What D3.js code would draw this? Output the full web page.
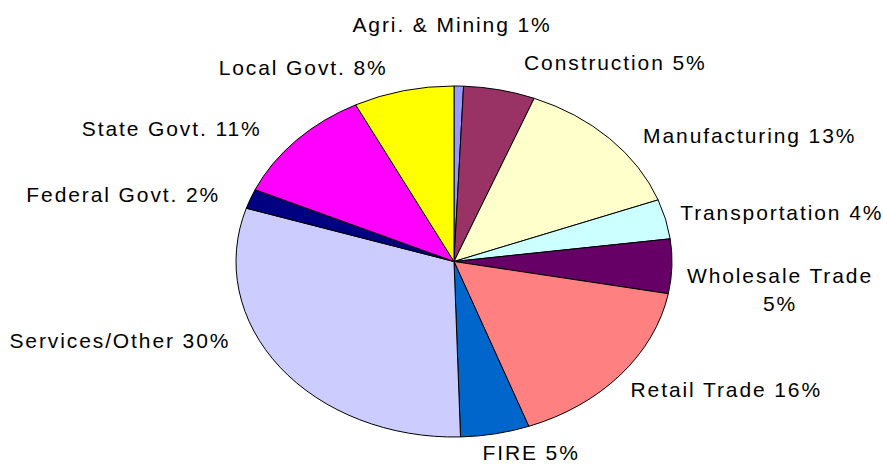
<!DOCTYPE html>
<html>
<head>
<meta charset="utf-8">
<script src="https://cdn.jsdelivr.net/npm/d3@7"></script>
<style>
  html, body { margin: 0; padding: 0; background: #fff; }
  svg { display: block; }
  .lbl { font-family: "Liberation Sans", Arial, sans-serif; font-size: 21px; letter-spacing: 1.9px; fill: #000; }
</style>
</head>
<body>
<svg id="chart" width="883" height="464"></svg>
<script>
// ---- data ----
const categories = ["Agri. & Mining", "Construction", "Manufacturing", "Transportation",
  "Wholesale Trade", "Retail Trade", "FIRE", "Services/Other", "Federal Govt.",
  "State Govt.", "Local Govt."];
const shares = [0.7, 5.3, 13.3, 3.65, 5.0, 16.5, 5.1, 30.4, 1.8, 10.85, 7.45];
const shareLabels = ["1%", "5%", "13%", "4%", "5%", "16%", "5%", "30%", "2%", "11%", "8%"];
const wrappedLabels = ["Wholesale Trade"];
const colors = ["#9999FF", "#993366", "#FFFFCC", "#CCFFFF", "#660066", "#FF8080",
  "#0066CC", "#CCCCFF", "#000080", "#FF00FF", "#FFFF00"];
// label placement nudges (layout only)
const labelNudge = [[-7, -48], [22, -14], [25, 7], [3, -2], [3, 24], [1, 8],
  [-15, 8.5], [-40, -32], [-19, 1], [-26, -2.5], [-13, -10]];

// ---- layout ----
const cx = 454, cy = 261.5, rx = 218, ry = 175.5;
const gap = 12, lineH = 28;

const svg = d3.select("#chart");
const pie = d3.pie().sort(null).value(d => d)(shares);
const arc = d3.arc().innerRadius(0).outerRadius(rx);

const g = svg.append("g")
  .attr("transform", `translate(${cx},${cy}) scale(1,${ry / rx})`);

g.selectAll("path").data(pie).enter().append("path")
  .attr("d", arc)
  .attr("fill", (d, i) => colors[i])
  .attr("stroke", "#000")
  .attr("stroke-width", 1)
  .attr("vector-effect", "non-scaling-stroke");

const labels = svg.append("g");
pie.forEach((a, i) => {
  const mid = (a.startAngle + a.endAngle) / 2;
  const s = Math.sin(mid), c = Math.cos(mid);
  const ox = cx + (rx + gap) * s;
  const oy = cy - (ry + gap) * c;
  const lines = wrappedLabels.includes(categories[i])
    ? [categories[i], shareLabels[i]]
    : [categories[i] + " " + shareLabels[i]];
  const anchor = s > 0.15 ? "start" : (s < -0.15 ? "end" : "middle");
  const firstBase = oy + 6 - (lines.length - 1) * lineH / 2 + labelNudge[i][1];
  const grp = labels.append("g");
  const t = grp.append("text").attr("class", "lbl").attr("text-anchor", "middle");
  lines.forEach((ln, k) => {
    t.append("tspan").attr("x", 0).attr("y", firstBase + k * lineH).text(ln);
  });
  const bb = t.node().getBBox();
  const ax = ox + labelNudge[i][0];
  let tx;
  if (anchor === "start") tx = ax - bb.x;
  else if (anchor === "end") tx = ax - (bb.x + bb.width);
  else tx = ax - (bb.x + bb.width / 2);
  grp.attr("transform", `translate(${tx},0)`);
});
</script>
</body>
</html>
